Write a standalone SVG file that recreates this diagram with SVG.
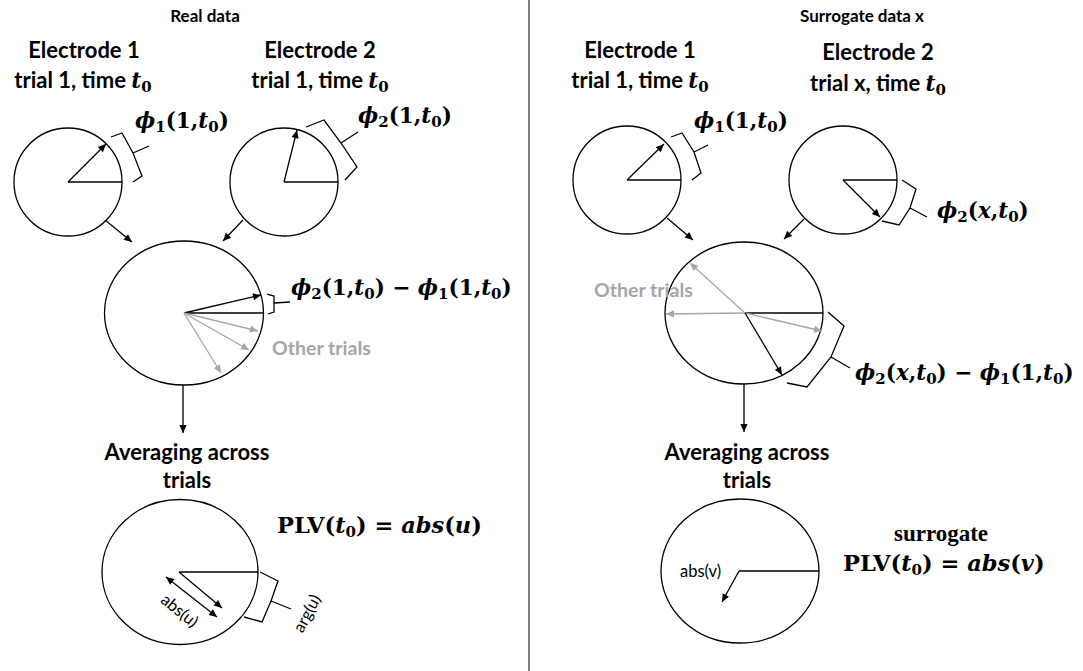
<svg xmlns="http://www.w3.org/2000/svg" width="1083" height="671" viewBox="0 0 1083 671">
<style>
.h{font-family:Lato,"Liberation Sans",sans-serif;font-weight:bold;fill:#000}
.sm{font-size:17px}
.el{font-size:22px}
.gr{font-family:Lato,"Liberation Sans",sans-serif;font-weight:bold;font-size:19.5px;fill:#a6a6a6}
.lb{font-family:Lato,"Liberation Sans",sans-serif;font-size:16.5px;fill:#000}
.m{font-family:"DejaVu Serif","Liberation Serif",serif;font-weight:bold;font-size:21.5px;fill:#000}
.sv{font-family:"Liberation Serif","DejaVu Serif",serif;font-weight:bold;font-size:23px;fill:#000}
.i{font-style:italic}
.s{font-size:15px}
.c{fill:none;stroke:#000;stroke-width:1.3}
.ln{fill:none;stroke:#000;stroke-width:1.3}
.ar{fill:none;stroke:#000;stroke-width:1.3;marker-end:url(#ah)}
.ga{fill:none;stroke:#a6a6a6;stroke-width:1.3;marker-end:url(#gh)}
.br{fill:none;stroke:#000;stroke-width:1.3;stroke-linejoin:miter}
</style>
<defs>
<marker id="ah" viewBox="0 0 10 10" refX="10" refY="5" markerWidth="9" markerHeight="8" markerUnits="userSpaceOnUse" orient="auto-start-reverse"><path d="M0,0.5 L10,5 L0,9.5 z" fill="#000"/></marker>
<marker id="gh" viewBox="0 0 10 10" refX="10" refY="5" markerWidth="9" markerHeight="8" markerUnits="userSpaceOnUse" orient="auto"><path d="M0,0.5 L10,5 L0,9.5 z" fill="#a6a6a6"/></marker>
</defs>
<rect width="1083" height="671" fill="#fff"/>
<line x1="529" y1="0" x2="529" y2="671" stroke="#555" stroke-width="1.5"/>

<g id="titles">
<text class="h sm" x="205" y="22" text-anchor="middle">Real data</text>
<text class="h sm" x="862" y="22" text-anchor="middle">Surrogate data x</text>
</g>

<g id="L-elec1">
<text class="h el" x="84" y="58" text-anchor="middle">Electrode 1</text>
<text class="h el" x="83" y="88" text-anchor="middle">trial 1, time <tspan class="m i">t</tspan><tspan class="m s" dy="4">0</tspan></text>
<circle class="c" cx="68" cy="182" r="54"/>
<line class="ln" x1="68" y1="182" x2="122" y2="182"/>
<line class="ar" x1="68" y1="182" x2="106" y2="144"/>
<path class="br" d="M111,137 L122,133 L133,153 L142,176 L133,182 M133,153 L149,146"/>
<text class="m" x="135" y="128"><tspan class="i">ϕ</tspan><tspan class="s" dy="4">1</tspan><tspan dy="-4">(1,</tspan><tspan class="i">t</tspan><tspan class="s" dy="4">0</tspan><tspan dy="-4">)</tspan></text>
</g>

<g id="L-elec2">
<text class="h el" x="320" y="58" text-anchor="middle">Electrode 2</text>
<text class="h el" x="320" y="88" text-anchor="middle">trial 1, time <tspan class="m i">t</tspan><tspan class="m s" dy="4">0</tspan></text>
<circle class="c" cx="284" cy="182" r="54"/>
<line class="ln" x1="284" y1="182" x2="338" y2="182"/>
<line class="ar" x1="284" y1="182" x2="297" y2="130"/>
<path class="br" d="M306,127 L324,120 L341,143 L357,167 L345,180 M341,143 L358,132"/>
<text class="m" x="358" y="123"><tspan class="i">ϕ</tspan><tspan class="s" dy="4">2</tspan><tspan dy="-4">(1,</tspan><tspan class="i">t</tspan><tspan class="s" dy="4">0</tspan><tspan dy="-4">)</tspan></text>
</g>

<g id="L-diff">
<ellipse class="c" cx="184" cy="313" rx="79.5" ry="72"/>
<line class="ln" x1="184" y1="313" x2="263" y2="313"/>
<line class="ar" x1="184" y1="313" x2="261" y2="295"/>
<line class="ga" x1="184" y1="313" x2="258" y2="331"/>
<line class="ga" x1="184" y1="313" x2="249" y2="350"/>
<line class="ga" x1="184" y1="313" x2="221" y2="373"/>
<path class="br" d="M267,294 L274,296 L274,303 L274,312 L268,314 M274,303 L290,302"/>
<text class="m" x="291" y="295"><tspan class="i">ϕ</tspan><tspan class="s" dy="4">2</tspan><tspan dy="-4">(1,</tspan><tspan class="i">t</tspan><tspan class="s" dy="4">0</tspan><tspan dy="-4">) − </tspan><tspan class="i">ϕ</tspan><tspan class="s" dy="4">1</tspan><tspan dy="-4">(1,</tspan><tspan class="i">t</tspan><tspan class="s" dy="4">0</tspan><tspan dy="-4">)</tspan></text>
<text class="gr" x="272" y="355">Other trials</text>
</g>

<g id="L-avg">
<text class="h el" x="187" y="460" text-anchor="middle">Averaging across</text>
<text class="h el" x="187" y="488" text-anchor="middle">trials</text>
<ellipse class="c" cx="180" cy="572" rx="78" ry="72.5"/>
<line class="ln" x1="179" y1="572" x2="258" y2="572"/>
<line class="ar" x1="179" y1="572" x2="222" y2="608"/>
<line class="ln" x1="166" y1="577" x2="217" y2="617" marker-start="url(#ah)" marker-end="url(#ah)"/>
<text class="lb" x="0" y="0" text-anchor="middle" transform="translate(176,615) rotate(39)">abs(u)</text>
<path class="br" d="M260,572 L278,581 L271,601 L262,622 L244,617 M271,601 L291,609"/>
<text class="lb" x="0" y="0" text-anchor="middle" transform="translate(312,616) rotate(-62)">arg(u)</text>
<text class="m" x="277" y="533" style="font-size:22.5px">PLV(<tspan class="i">t</tspan><tspan class="s" dy="4">0</tspan><tspan dy="-4">) = </tspan><tspan class="i">abs</tspan>(<tspan class="i">u</tspan>)</text>
</g>

<g id="R-elec1">
<text class="h el" x="640" y="58" text-anchor="middle">Electrode 1</text>
<text class="h el" x="640" y="88" text-anchor="middle">trial 1, time <tspan class="m i">t</tspan><tspan class="m s" dy="4">0</tspan></text>
<circle class="c" cx="627" cy="180" r="54"/>
<line class="ln" x1="627" y1="180" x2="681" y2="180"/>
<line class="ar" x1="627" y1="180" x2="664" y2="144"/>
<path class="br" d="M671,137 L682,133 L694,152 L701,173 L692,180 M694,152 L708,145"/>
<text class="m" x="694" y="128"><tspan class="i">ϕ</tspan><tspan class="s" dy="4">1</tspan><tspan dy="-4">(1,</tspan><tspan class="i">t</tspan><tspan class="s" dy="4">0</tspan><tspan dy="-4">)</tspan></text>
</g>

<g id="R-elec2">
<text class="h el" x="878" y="60" text-anchor="middle">Electrode 2</text>
<text class="h el" x="878" y="91" text-anchor="middle">trial x, time <tspan class="m i">t</tspan><tspan class="m s" dy="4">0</tspan></text>
<circle class="c" cx="843" cy="180" r="54"/>
<line class="ln" x1="843" y1="180" x2="897" y2="180"/>
<line class="ar" x1="843" y1="180" x2="880" y2="217"/>
<path class="br" d="M902,180 L916,189 L910,208 L899,225 L882,221 M910,208 L927,217"/>
<text class="m" x="937" y="218"><tspan class="i">ϕ</tspan><tspan class="s" dy="4">2</tspan><tspan dy="-4">(</tspan><tspan class="i">x</tspan>,<tspan class="i">t</tspan><tspan class="s" dy="4">0</tspan><tspan dy="-4">)</tspan></text>
</g>

<g id="R-diff">
<ellipse class="c" cx="744" cy="313" rx="79" ry="71"/>
<line class="ln" x1="745" y1="313" x2="823" y2="313"/>
<line class="ga" x1="745" y1="313" x2="690" y2="263"/>
<line class="ga" x1="745" y1="313" x2="666" y2="314"/>
<line class="ga" x1="745" y1="313" x2="822" y2="331"/>
<line class="ar" x1="745" y1="313" x2="782" y2="375"/>
<path class="br" d="M828,312 L844,326 L831,357 L807,387 L787,383 M831,357 L850,368"/>
<text class="m" x="855" y="380"><tspan class="i">ϕ</tspan><tspan class="s" dy="4">2</tspan><tspan dy="-4">(</tspan><tspan class="i">x</tspan>,<tspan class="i">t</tspan><tspan class="s" dy="4">0</tspan><tspan dy="-4">) − </tspan><tspan class="i">ϕ</tspan><tspan class="s" dy="4">1</tspan><tspan dy="-4">(1,</tspan><tspan class="i">t</tspan><tspan class="s" dy="4">0</tspan><tspan dy="-4">)</tspan></text>
<text class="gr" x="594" y="297">Other trials</text>
</g>

<g id="R-avg">
<text class="h el" x="747" y="460" text-anchor="middle">Averaging across</text>
<text class="h el" x="747" y="488" text-anchor="middle">trials</text>
<ellipse class="c" cx="740" cy="571" rx="79" ry="72"/>
<line class="ln" x1="739" y1="571" x2="819" y2="571"/>
<line class="ar" x1="739" y1="571" x2="722" y2="602"/>
<text class="lb" x="680" y="577">abs(v)</text>
<text class="sv" x="941" y="541" text-anchor="middle">surrogate</text>
<text class="m" x="843" y="571" style="font-size:22.5px">PLV(<tspan class="i">t</tspan><tspan class="s" dy="4">0</tspan><tspan dy="-4">) = </tspan><tspan class="i">abs</tspan>(<tspan class="i">v</tspan>)</text>
</g>

<g id="connectors">
<line class="ar" x1="105" y1="220" x2="132" y2="242"/>
<line class="ar" x1="243" y1="220" x2="223" y2="241"/>
<line class="ar" x1="183" y1="385" x2="183" y2="433"/>
<line class="ar" x1="667" y1="218" x2="693" y2="240"/>
<line class="ar" x1="804" y1="219" x2="784" y2="239"/>
<line class="ar" x1="744" y1="384" x2="744" y2="432"/>
</g>
</svg>
